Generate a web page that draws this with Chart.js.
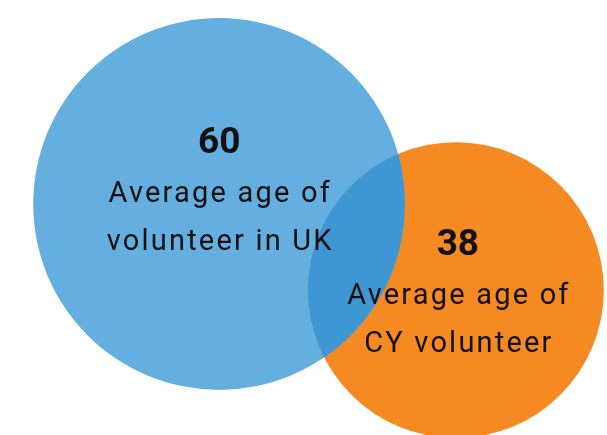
<!DOCTYPE html>
<html>
<head>
<meta charset="utf-8">
<script src="https://cdn.jsdelivr.net/npm/chart.js@4/dist/chart.umd.min.js"></script>
<style>
  html, body { margin: 0; padding: 0; background: #ffffff; }
  #wrap { width: 607px; height: 435px; }
</style>
</head>
<body>
<div id="wrap"><canvas id="c" width="607" height="435"></canvas></div>
<script>
// Average volunteer age, two groups
const groups = ['UK', 'CY'];
const ages = [60, 38];
const captions = [
  ['Average age of', 'volunteer in UK'],
  ['Average age of', 'CY volunteer']
];
// bubble centres on a 0-100 plane
const centerX = [36.1, 75.1];
const centerY = [53.1, 33.3];

const fillColors = ['#65aee0', '#f58a22'];
const overlapColor = '#3e96d3';
const radiusPerSqrtAge = 24;

const bubbleLabels = {
  id: 'bubbleLabels',
  afterDatasetsDraw(chart, args, opts) {
    const ctx = chart.ctx;
    const a = chart.getDatasetMeta(0).data[0];
    const b = chart.getDatasetMeta(1).data[0];
    // shade the shared region of the two bubbles
    ctx.save();
    ctx.beginPath();
    ctx.arc(b.x, b.y, b.options.radius, 0, Math.PI * 2);
    ctx.clip();
    ctx.beginPath();
    ctx.arc(a.x, a.y, a.options.radius, 0, Math.PI * 2);
    ctx.fillStyle = overlapColor;
    ctx.fill();
    ctx.restore();

    ctx.save();
    ctx.fillStyle = '#111111';
    ctx.textAlign = 'center';
    ctx.textBaseline = 'alphabetic';
    chart.data.datasets.forEach((ds, i) => {
      const el = chart.getDatasetMeta(i).data[0];
      const x = el.x + opts.shiftX[i];
      let y = el.y + opts.shiftY[i];
      ctx.letterSpacing = '0px';
      ctx.font = 'bold 37px Roboto';
      ctx.fillText(String(ages[i]), x, y);
      ctx.font = '29px Roboto';
      ctx.letterSpacing = '2.2px';
      captions[i].forEach((line, j) => {
        y += j === 0 ? 49 : 48;
        ctx.fillText(line, x + 1.1, y);
      });
    });
    ctx.restore();
  }
};

new Chart(document.getElementById('c'), {
  type: 'bubble',
  data: {
    datasets: groups.map((g, i) => ({
      label: g,
      data: [{ x: centerX[i], y: centerY[i], r: radiusPerSqrtAge * Math.sqrt(ages[i]) }],
      backgroundColor: fillColors[i],
      borderWidth: 0,
      hoverBorderWidth: 0,
      clip: false,
      order: i === 0 ? 0 : 1
    }))
  },
  options: {
    responsive: false,
    animation: false,
    events: [],
    layout: { padding: 0, autoPadding: false },
    scales: {
      x: { display: false, min: 0, max: 100 },
      y: { display: false, min: 0, max: 100 }
    },
    plugins: {
      legend: { display: false },
      tooltip: { enabled: false },
      bubbleLabels: { shiftX: [0, 2], shiftY: [-51, -35] }
    }
  },
  plugins: [bubbleLabels]
});
</script>
</body>
</html>
